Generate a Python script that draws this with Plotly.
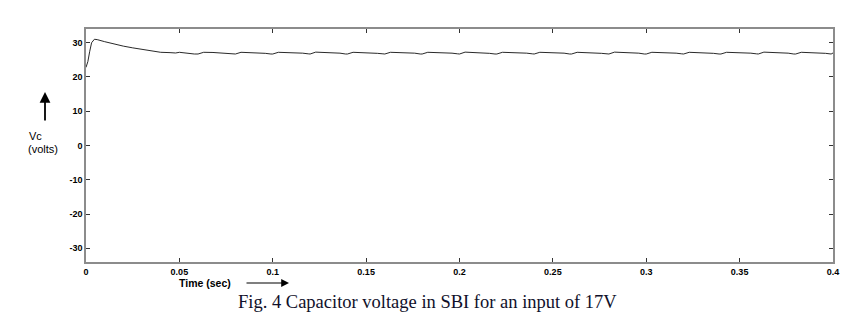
import plotly.graph_objects as go

# time (s) and capacitor voltage (V)
t = [0.0, 0.001, 0.002, 0.003, 0.0045, 0.006, 0.010, 0.015, 0.020, 0.025, 0.030, 0.035, 0.040,
     0.045, 0.048, 0.050, 0.052, 0.055, 0.058,
     0.060, 0.063, 0.068, 0.071, 0.076, 0.079,
     0.080, 0.083, 0.088, 0.091, 0.096, 0.099,
     0.100, 0.103, 0.108, 0.111, 0.116, 0.119,
     0.120, 0.123, 0.128, 0.131, 0.136, 0.139,
     0.140, 0.143, 0.148, 0.151, 0.156, 0.159,
     0.160, 0.163, 0.168, 0.171, 0.176, 0.179,
     0.180, 0.183, 0.188, 0.191, 0.196, 0.199,
     0.200, 0.203, 0.208, 0.211, 0.216, 0.219,
     0.220, 0.223, 0.228, 0.231, 0.236, 0.239,
     0.240, 0.243, 0.248, 0.251, 0.256, 0.259,
     0.260, 0.263, 0.268, 0.271, 0.276, 0.279,
     0.280, 0.283, 0.288, 0.291, 0.296, 0.299,
     0.300, 0.303, 0.308, 0.311, 0.316, 0.319,
     0.320, 0.323, 0.328, 0.331, 0.336, 0.339,
     0.340, 0.343, 0.348, 0.351, 0.356, 0.359,
     0.360, 0.363, 0.368, 0.371, 0.376, 0.379,
     0.380, 0.383, 0.388, 0.391, 0.396, 0.399,
     0.400]
vc = [22.8, 24.5, 27.5, 30.0, 31.0, 30.9, 30.3, 29.6, 29.0, 28.5, 28.0, 27.6, 27.2,
      27.1, 27.0, 27.2, 27.05, 26.85, 26.7,
      26.7, 27.2, 27.15, 27.0, 26.95, 26.75,
      26.7, 27.2, 27.15, 27.0, 26.9, 26.7,
      26.7, 27.2, 27.15, 27.0, 26.95, 26.75,
      26.7, 27.25, 27.15, 27.0, 26.95, 26.7,
      26.7, 27.2, 27.15, 27.0, 26.9, 26.75,
      26.7, 27.2, 27.15, 27.0, 26.95, 26.7,
      26.7, 27.2, 27.15, 27.0, 26.95, 26.75,
      26.7, 27.25, 27.15, 27.0, 26.9, 26.7,
      26.7, 27.2, 27.15, 27.0, 26.95, 26.75,
      26.7, 27.2, 27.15, 27.0, 26.95, 26.7,
      26.7, 27.2, 27.15, 27.0, 26.9, 26.75,
      26.7, 27.25, 27.15, 27.0, 26.95, 26.7,
      26.7, 27.2, 27.15, 27.0, 26.95, 26.75,
      26.7, 27.2, 27.15, 27.0, 26.9, 26.7,
      26.7, 27.2, 27.15, 27.0, 26.95, 26.75,
      26.7, 27.25, 27.15, 27.0, 26.95, 26.7,
      26.7, 27.2, 27.15, 27.0, 26.9, 26.7,
      27.0]

x_ticks = [0, 0.05, 0.1, 0.15, 0.2, 0.25, 0.3, 0.35, 0.4]
x_tick_labels = ["0", "0.05", "0.1", "0.15", "0.2", "0.25", "0.3", "0.35", "0.4"]
y_ticks = [30, 20, 10, 0, -10, -20, -30]
y_tick_labels = ["30", "20", "10", "0", "-10", "-20", "-30"]

fig = go.Figure()
fig.add_trace(go.Scatter(x=t, y=vc, mode="lines",
                         line=dict(color="#111111", width=0.9), showlegend=False))

axis_common = dict(showgrid=False, zeroline=False, showline=True, linecolor="#8c8c8c",
                   linewidth=1.5, mirror="ticks", ticks="inside", ticklen=4,
                   tickcolor="#333333", tickwidth=1,
                   tickfont=dict(family="Liberation Sans, Arial", size=9, color="black"))

fig.update_xaxes(range=[0, 0.4], tickvals=x_ticks, ticktext=[f"<b>{s}</b>" for s in x_tick_labels],
                 **axis_common)
fig.update_yaxes(range=[-34, 34], tickvals=y_ticks, ticktext=[f"<b>{s}</b>" for s in y_tick_labels],
                 **axis_common)

W, H = 862, 329
L, R, T, B = 86, 29, 29, 67
pw, ph = W - L - R, H - T - B

def px(x):
    return (x - L) / pw

def py(y):
    return (H - B - y) / ph

annos = [
    dict(x=px(27), y=py(136), text="Vc", xanchor="left", yanchor="middle",
         font=dict(family="Liberation Sans, Arial", size=11, color="black")),
    dict(x=px(26), y=py(149), text="(volts)", xanchor="left", yanchor="middle",
         font=dict(family="Liberation Sans, Arial", size=11, color="black")),
    dict(x=px(205), y=py(283), text="<b>Time (sec)</b>", xanchor="center", yanchor="middle",
         font=dict(family="Liberation Sans, Arial", size=10.5, color="black")),
    dict(x=px(427), y=py(302), text="Fig. 4 Capacitor voltage in SBI for an input of 17V",
         xanchor="center", yanchor="middle",
         font=dict(family="Liberation Serif, Times New Roman", size=18.5, color="#10102a")),
]
for a in annos:
    a.update(xref="paper", yref="paper", showarrow=False)
    fig.add_annotation(**a)

# arrows
fig.add_annotation(xref="paper", yref="paper", x=px(45), y=py(92), ax=0, ay=30,
                   showarrow=True, arrowhead=2, arrowsize=1.2, arrowwidth=1.8,
                   arrowcolor="black", text="")
fig.add_annotation(xref="paper", yref="paper", x=px(289), y=py(283), ax=-44, ay=0,
                   showarrow=True, arrowhead=2, arrowsize=1.3, arrowwidth=1.2,
                   arrowcolor="black", text="")

fig.update_layout(width=W, height=H, margin=dict(l=L, r=R, t=T, b=B),
                  paper_bgcolor="white", plot_bgcolor="white")

fig.write_html("out.html")
